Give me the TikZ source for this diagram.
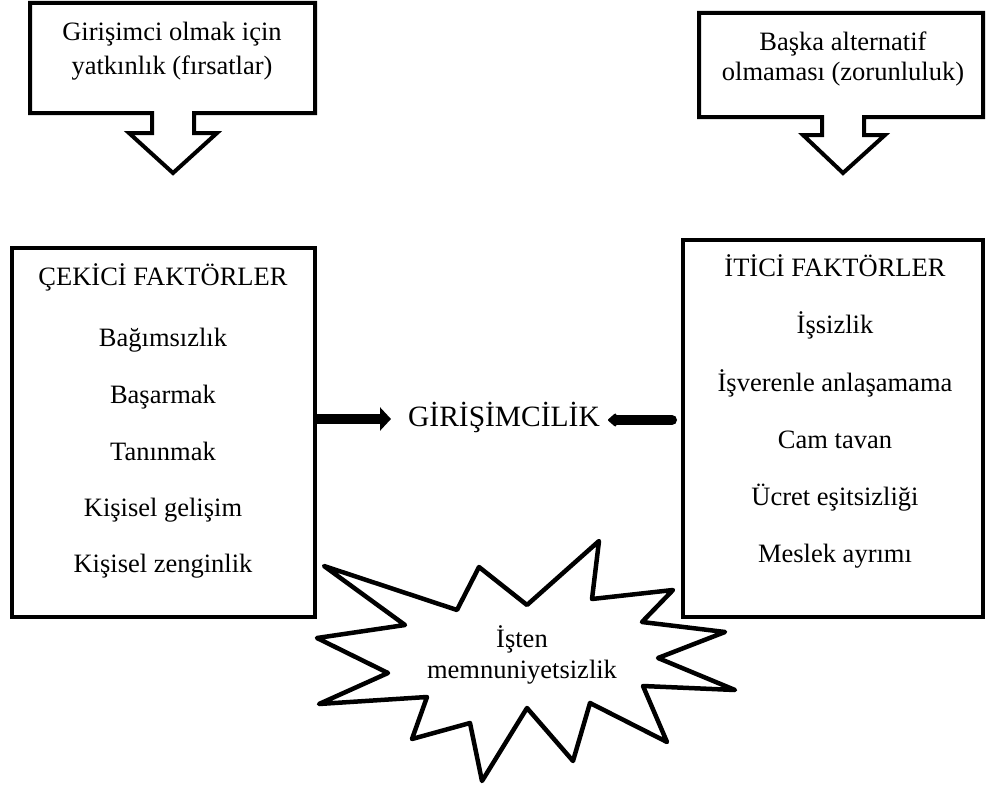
\documentclass[tikz,border=0pt]{standalone}
\usepackage{fontspec}
\setmainfont{LiberationSerif}[Extension=.ttf, UprightFont=*-Regular, BoldFont=*-Bold, ItalicFont=*-Italic]
\usetikzlibrary{arrows.meta}
\begin{document}
\begin{tikzpicture}[x=1pt,y=-1pt,
  box/.style={draw, line width=4pt, fill=white, inner sep=0pt},
  txt/.style={anchor=base, inner sep=0pt, font=\fontsize{26.5}{30}\selectfont},
  outl/.style={draw, line width=4pt, line join=miter},
  burst/.style={draw, line width=4.5pt, line join=round, fill=white},
  ]
\useasboundingbox[fill=white] (0,0) rectangle (986,792);

% callout top-left
\draw[outl] (30,3) -- (315,3) -- (315,113) -- (194,113) -- (194,133) -- (217,133)
  -- (173,173) -- (129,133) -- (152,133) -- (152,113) -- (30,113) -- cycle;
\node[txt] (t1a) at (172,40.7) {Girişimci olmak için};
\node[txt] (t1b) at (172,74.5) {yatkınlık (fırsatlar)};

% callout top-right
\draw[outl] (699,13) -- (983,13) -- (983,117) -- (864,117) -- (864,135) -- (885,135)
  -- (843,173) -- (803,135) -- (822,135) -- (822,117) -- (699,117) -- cycle;
\node[txt] (t2a) at (843,50.5) {Başka alternatif};
\node[txt] (t2b) at (843,80.5) {olmaması (zorunluluk)};

% starburst
\draw[burst] (324,566) -- (457,610) -- (479,567) -- (527,605) -- (599,541) -- (592,599)
  -- (673,590) -- (642,622) -- (725,632) -- (658,658) -- (735,690) -- (643,686)
  -- (667,742) -- (590,703) -- (573,761) -- (527,708) -- (482,781) -- (470,723)
  -- (412,739) -- (427,697) -- (319,704) -- (388,673) -- (317,638) -- (405,625) -- cycle;
\node[txt] (s1) at (522,647) {İşten};
\node[txt] (s2) at (522,678) {memnuniyetsizlik};

% boxes
\node[box, minimum width=303pt, minimum height=369pt] (lbox) at (163.5,432.5) {};
\node[box, minimum width=300pt, minimum height=377pt] (rbox) at (833,428.5) {};

\node[txt] (l0) at (163,285) {ÇEKİCİ FAKTÖRLER};
\node[txt] (l1) at (163,346) {Bağımsızlık};
\node[txt] (l2) at (163,403) {Başarmak};
\node[txt] (l3) at (163,460) {Tanınmak};
\node[txt] (l4) at (163,516) {Kişisel gelişim};
\node[txt] (l5) at (163,572) {Kişisel zenginlik};

\node[txt] (r0) at (835,276) {İTİCİ FAKTÖRLER};
\node[txt] (r1) at (835,333) {İşsizlik};
\node[txt] (r2) at (835,391) {İşverenle anlaşamama};
\node[txt] (r3) at (835,448) {Cam tavan};
\node[txt] (r4) at (835,505) {Ücret eşitsizliği};
\node[txt] (r5) at (835,562) {Meslek ayrımı};

% center
\node[txt, font=\fontsize{29.5}{34}\selectfont] (gir) at (504,426.7) {GİRİŞİMCİLİK};
\coordinate (la) at (391,419);
\coordinate (ra) at (608,420);
\draw[line width=10pt, -{Triangle[length=11pt,width=23pt]}] (lbox.east |- la) -- (la);
\draw[line width=10pt, line cap=round, -{Triangle[length=9pt,width=15pt,round]}]
  ([xshift=-9pt]rbox.west |- ra) -- (ra);
\end{tikzpicture}
\end{document}
